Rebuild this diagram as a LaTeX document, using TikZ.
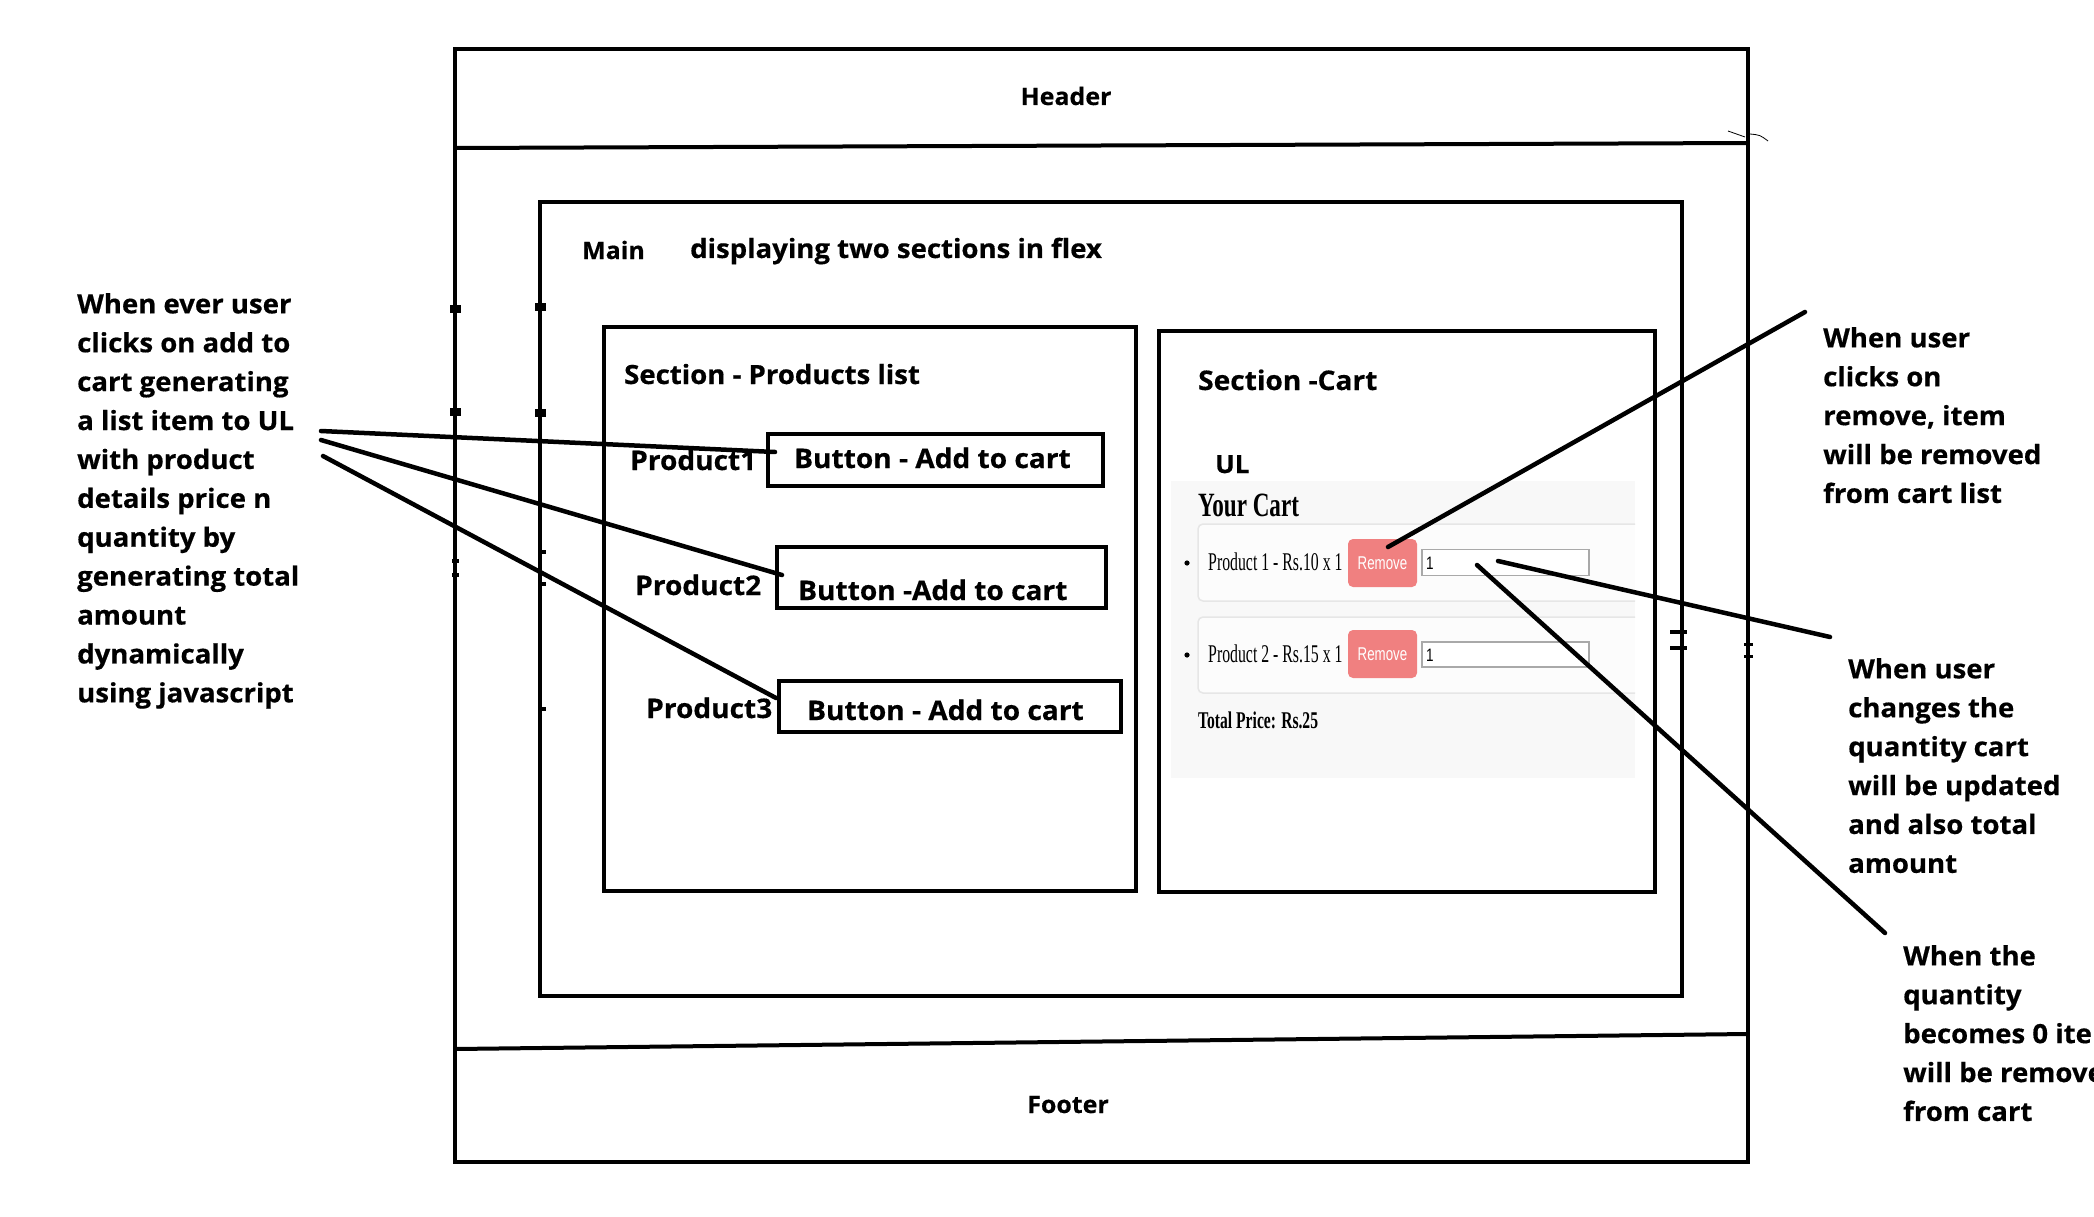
\documentclass[tikz,border=0pt]{standalone}
\usepackage{fontspec}
\setmainfont{Open Sans}[FakeStretch=1.04, BoldFeatures={FakeBold=0.5}]
\newfontfamily\timesf{Liberation Serif}
\newfontfamily\arialf{Liberation Sans}
\definecolor{cartbg}{HTML}{F8F8F8}
\definecolor{cardline}{HTML}{E6E6E6}
\definecolor{removefill}{HTML}{F08080}
\definecolor{inputline}{HTML}{A9A9A9}
\tikzset{
  lbl/.style={inner sep=0pt, anchor=base west, font=\bfseries\fontsize{26.5}{39}\selectfont},
  smalllbl/.style={lbl, font=\bfseries\fontsize{24}{30}\selectfont},
  btnlbl/.style={lbl, font=\bfseries\fontsize{27}{39}\selectfont},
  note/.style={inner sep=0pt, anchor=north west, align=left, font=\bfseries\fontsize{26.5}{38.9}\selectfont},
  frame/.style={draw, line width=4pt},
  btnbox/.style={draw, line width=4pt, inner sep=0pt},
  conn/.style={line width=4.5pt, line cap=round},
  tick/.style={fill, inner sep=0pt},
  card/.style={draw=cardline, fill=white!60!cartbg, line width=1.5pt, rounded corners=5pt},
  removebtn/.style={fill=removefill, rounded corners=5pt, inner sep=0pt, minimum width=69pt, minimum height=48pt, text=white, font=\arialf\fontsize{18.5}{20}\selectfont},
  qtybox/.style={draw=inputline, fill=white, line width=1.5pt, inner sep=0pt, minimum width=167pt, minimum height=26pt},
}
\begin{document}
\begin{tikzpicture}[x=1pt,y=-1pt]
\useasboundingbox (0,0) rectangle (2094,1217);
\clip (0,0) rectangle (2094,1217);

% outer page frame
\draw[frame] (455,49) rectangle (1748,1162);
\draw[frame] (455,148) -- (1748,143);
\draw[frame] (455,1049) -- (1748,1034);
\node[smalllbl, anchor=base] (header) at (1066,105) {Header};
\node[smalllbl, anchor=base] (footer) at (1068,1113) {Footer};
\draw[line width=0.8pt] (1728,131) -- (1745,137);
\draw[line width=0.8pt] (1750,134) .. controls (1760,135) .. (1768,141);

% main
\draw[frame] (540,202) rectangle (1682,996);
\node[smalllbl] (mainlbl) at (582,259) {Main};
\node[lbl] (flexlbl) at (690,258) {displaying two sections in flex};

% ticks on left vertical lines
\foreach \yy in {309,412} {\node[tick, minimum width=11pt, minimum height=8pt] at (455,\yy) {};}
\foreach \yy in {561,575} {\node[tick, minimum width=7pt, minimum height=4pt] at (455,\yy) {};}
\foreach \yy in {307,413} {\node[tick, minimum width=11pt, minimum height=8pt] at (540,\yy) {};}
\foreach \yy in {552,584,709} {\node[tick, minimum width=8pt, minimum height=4pt] at (542,\yy) {};}
% ticks on right
\draw[line width=4pt] (1670,632) -- (1687,632);
\draw[line width=4pt] (1670,648) -- (1687,648);
\draw[line width=3pt] (1744,644) -- (1753,644);
\draw[line width=3pt] (1744,656) -- (1753,656);

% products section
\draw[frame] (604,327) rectangle (1136,891);
\node[lbl] (prodtitle) at (624,384) {Section - Products list};
\node[btnbox, minimum width=335pt, minimum height=52pt] (b1) at (935.5,460) {};
\node[btnbox, minimum width=329pt, minimum height=61pt] (b2) at (941.5,577.5) {};
\node[btnbox, minimum width=342pt, minimum height=51pt] (b3) at (950,706.5) {};
\node[btnlbl] (p1) at (630,470) {Product1};
\node[btnlbl] (t1) at (794,468) {Button - Add to cart};
\node[btnlbl] (p2) at (635,595) {Product2};
\node[btnlbl] (t2) at (798,600) {Button -Add to cart};
\node[btnlbl] (p3) at (646,718) {Product3};
\node[btnlbl] (t3) at (807,720) {Button - Add to cart};

% cart section
\draw[frame] (1159,331) rectangle (1655,892);
\node[lbl, font=\bfseries\fontsize{27}{30}\selectfont] (carttitle) at (1198,390) {Section -Cart};
\node[lbl, font=\bfseries\fontsize{25}{30}\selectfont] (ul) at (1215,473) {UL};
\fill[cartbg] (1171,481) rectangle (1635,778);
\begin{scope}
  \clip (1171,481) rectangle (1635,778);
  \draw[card] (1198,524) rectangle (1660,601);
  \draw[card] (1198,617) rectangle (1660,693);
\end{scope}
\node[inner sep=0pt, anchor=base west] (yourcart) at (1198,516) {\scalebox{0.68}[1]{\timesf\bfseries\fontsize{34}{40}\selectfont Your Cart}};
\fill (1187,563) circle (2.6pt);
\fill (1187,655) circle (2.6pt);
\node[inner sep=0pt, anchor=base west] (item1) at (1208,570) {\scalebox{0.62}[1]{\timesf\fontsize{25.5}{30}\selectfont Product 1 - Rs.10 x 1}};
\node[inner sep=0pt, anchor=base west] (item2) at (1208,662) {\scalebox{0.62}[1]{\timesf\fontsize{25.5}{30}\selectfont Product 2 - Rs.15 x 1}};
\node[removebtn] (rm1) at (1382.5,563) {\scalebox{0.72}[1]{Remove}};
\node[removebtn] (rm2) at (1382.5,654) {\scalebox{0.72}[1]{Remove}};
\node[qtybox] (q1) at (1505.5,562.5) {};
\node[qtybox, minimum height=25pt] (q2) at (1505.5,654.5) {};
\node[inner sep=0pt, anchor=west, font=\arialf\fontsize{18}{20}\selectfont] (q1v) at (1426,563) {\scalebox{0.75}[1]{1}};
\node[inner sep=0pt, anchor=west, font=\arialf\fontsize{18}{20}\selectfont] (q2v) at (1426,655) {\scalebox{0.75}[1]{1}};
\node[inner sep=0pt, anchor=base west] (total) at (1198,728) {\scalebox{0.65}[1]{\timesf\bfseries\fontsize{24}{30}\selectfont Total Price: Rs.25}};

% notes
\node[note] (leftnote) at (77,293) {When ever user\\clicks on add to\\cart generating\\a list item to UL\\with product\\details price n\\quantity by\\generating total\\amount\\dynamically\\using javascript};
\node[note] (removenote) at (1823,327) {When user\\clicks on\\remove, item\\will be removed\\from cart list};
\node[note] (qtynote) at (1848,658) {When user\\changes the\\quantity cart\\will be updated\\and also total\\amount};
\node[note] (zeronote) at (1903,945) {When the\\quantity\\becomes 0 item\\will be removed\\from cart};

% connector end points
\coordinate (l1s) at (321,431);
\coordinate (l2s) at (321,440);
\coordinate (l3s) at (323,456);
\coordinate (l1e) at (775,452);
\coordinate (l2e) at (782,575);
\coordinate (l3e) at (776,698);
\coordinate (r1s) at (1388,547);
\coordinate (r1e) at (1805,312);
\coordinate (r2s) at (1498,561);
\coordinate (r2e) at (1830,637);
\coordinate (r3s) at (1477,565);
\coordinate (r3e) at (1885,933);

\draw[conn] (l1s) -- (l1e);
\draw[conn] (l2s) -- (l2e);
\draw[conn] (l3s) -- (l3e);
\draw[conn] (r1s) -- (r1e);
\draw[conn] (r2s) -- (r2e);
\draw[conn] (r3s) -- (r3e);
\end{tikzpicture}
\end{document}
